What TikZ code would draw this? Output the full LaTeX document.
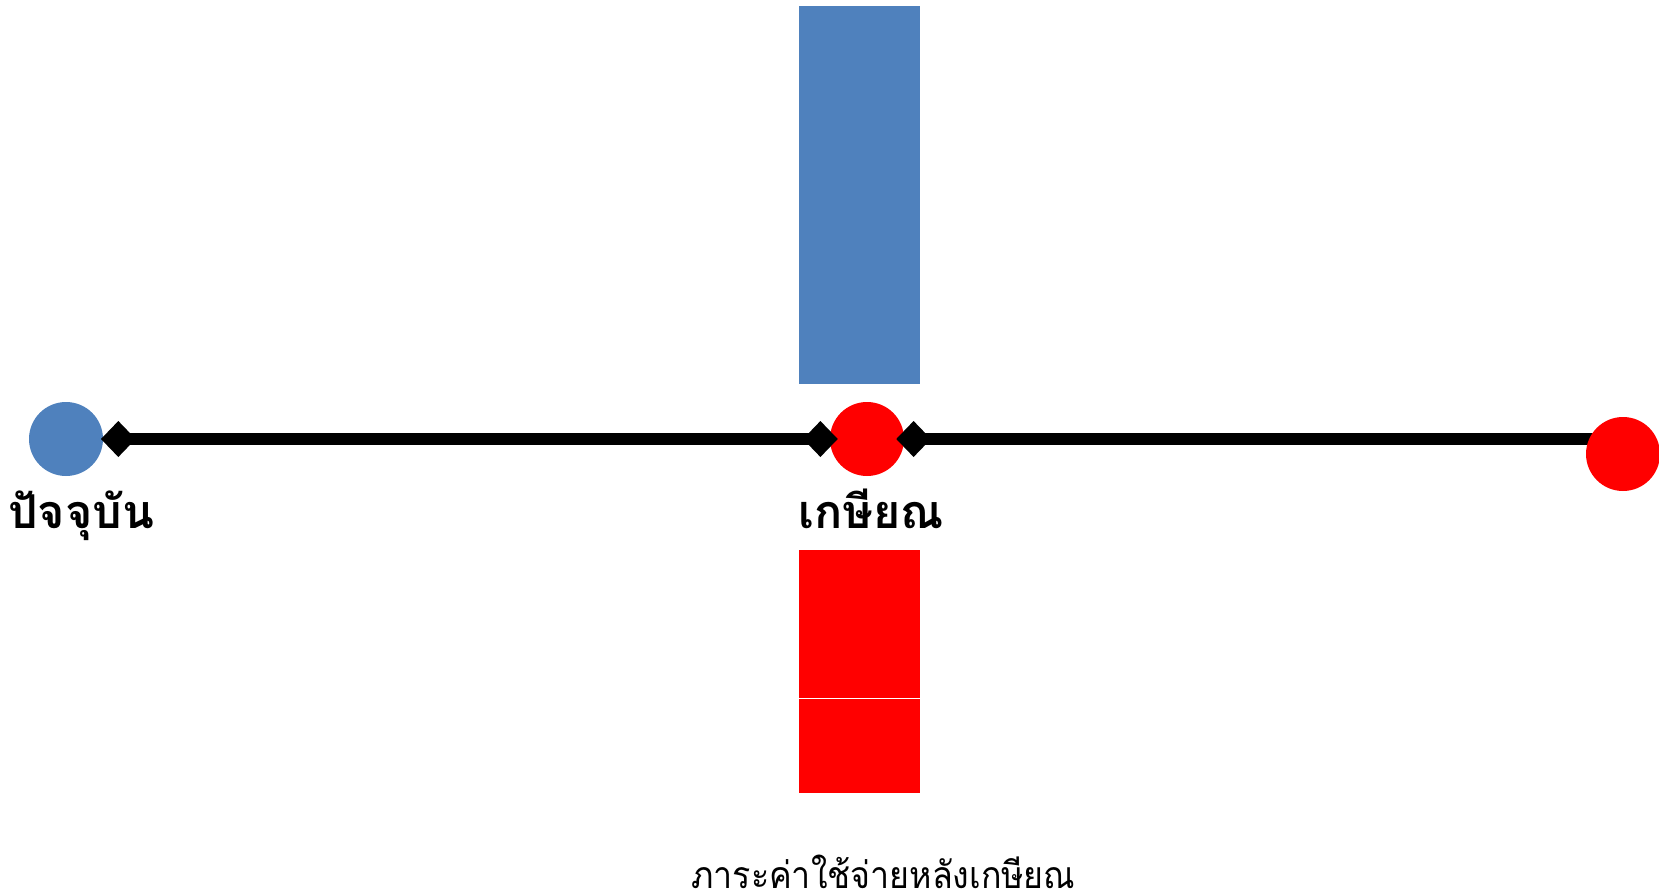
\documentclass[tikz,border=0pt]{standalone}
\usepackage{fontspec}
\newfontfamily\thaifont[Script=Thai]{Loma}
\newfontfamily\thainarrow[Script=Thai,FakeStretch=0.91]{Loma}
\usetikzlibrary{arrows.meta}
\pgfdeclarelayer{fg}
\pgfsetlayers{main,fg}
\definecolor{obblue}{HTML}{4F81BD}
\definecolor{obred}{HTML}{FF0000}
\tikzset{
  dot/.style={circle, inner sep=0pt, minimum size=55.5pt, draw=none},
  bar/.style={rectangle, inner sep=0pt, draw=none, anchor=north west, minimum width=90.75pt},
  lbl/.style={inner sep=0pt, anchor=base west, font=\thaifont\bfseries\fontsize{35pt}{40pt}\selectfont},
  captext/.style={inner sep=0pt, anchor=base west, font=\thainarrow\fontsize{28pt}{34pt}\selectfont},
  axis/.style={line width=8.8pt, black, {Diamond[length=26pt,width=27pt]}-{Diamond[length=26pt,width=27pt]}},
  axisr/.style={line width=8.8pt, black, {Diamond[length=26pt,width=27pt]}-},
}
\begin{document}
\begin{tikzpicture}[x=0.75pt,y=-0.75pt]
\useasboundingbox (0,0) rectangle (1659,895);
% bars
\node[bar, fill=obblue, minimum height=283.5pt] (up) at (799,6) {};
\node[bar, fill=obred, minimum height=110.8pt] (dn1) at (799,550) {};
\node[bar, fill=obred, minimum height=70.3pt] (dn2) at (799,699) {};
% points
\node[dot, fill=obblue] (now) at (66,439) {};
\node[dot, fill=obred] (ret) at (867,439) {};
\begin{pgfonlayer}{fg}
\node[dot, fill=obred] (end) at (1623,454) {};
\end{pgfonlayer}
% connectors
\draw[axis, shorten <=-1.7pt, shorten >=-6pt] (now.east) -- (ret.west);
\draw[axisr, shorten <=-6pt] (ret.east) -- (ret -| end);
% labels
\node[lbl] (lnow) at (8,528) {ปัจจุบัน};
\node[lbl] (lret) at (798,528) {เกษียณ};
\node[captext] (lcost) at (691,888) {ภาระค่าใช้จ่ายหลังเกษียณ};
\end{tikzpicture}
\end{document}
